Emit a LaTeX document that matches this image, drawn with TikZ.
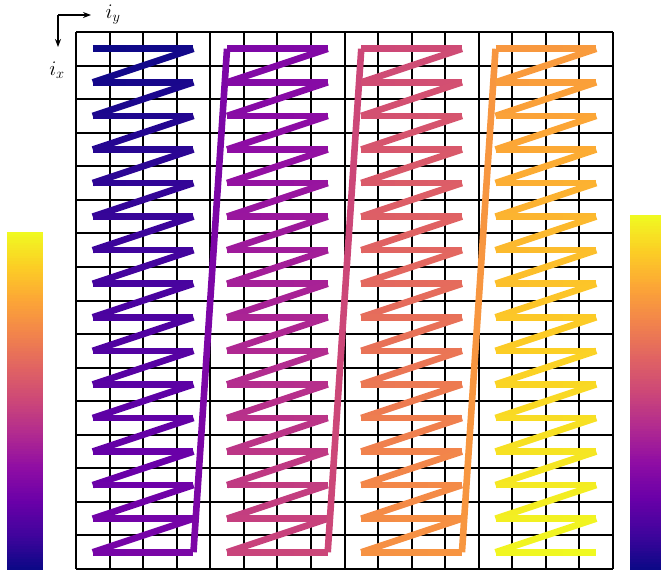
\documentclass[tikz,border=0pt]{standalone}
\usetikzlibrary{arrows.meta}
\definecolor{p0}{HTML}{0D0887}
\definecolor{p1}{HTML}{41049D}
\definecolor{p2}{HTML}{6A00A8}
\definecolor{p3}{HTML}{8F0DA4}
\definecolor{p4}{HTML}{B12A90}
\definecolor{p5}{HTML}{CC4778}
\definecolor{p6}{HTML}{E16462}
\definecolor{p7}{HTML}{F2844B}
\definecolor{p8}{HTML}{FCA636}
\definecolor{p9}{HTML}{FCCE25}
\definecolor{p10}{HTML}{F0F921}
\newcommand\setplasma[1]{%
  \pgfmathsetmacro\pT{10*(#1)}%
  \pgfmathtruncatemacro\pI{min(floor(\pT),9)}%
  \pgfmathtruncatemacro\pJ{\pI+1}%
  \pgfmathsetmacro\pF{100*(\pT-\pI)}%
  \colorlet{pc}{p\pJ!\pF!p\pI}%
}
\begin{document}
\begin{tikzpicture}[x=1pt,y=-1pt,
  seg/.style={line width=6.6pt, line cap=butt},
  gridline/.style={line width=2pt, black},
  axisarrow/.style={-{Stealth[length=8pt,width=6pt]}, line width=1.4pt},
  axislabel/.style={font=\fontsize{22}{26}\selectfont, inner sep=0pt}]
\useasboundingbox (0,0) rectangle (661,573);
\def\cw{33.5625}
\def\hl{2.640625}
\def\hr{2.7734375}
% grid
\foreach \i in {0,...,16}{
  \pgfmathtruncatemacro\gx{round(76+\i*\cw)}
  \pgfmathtruncatemacro\gy{round(32+\i*\cw)}
  \draw[gridline] (\gx,32) -- (\gx,569);
  \draw[gridline] (76,\gy) -- (613,\gy);
}
% path
\foreach \k in {0,...,254}{
  \pgfmathtruncatemacro\qb{floor(\k/64)}
  \pgfmathtruncatemacro\qr{floor(mod(\k,64)/4)}
  \pgfmathtruncatemacro\qc{mod(\k,4)}
  \pgfmathtruncatemacro\qk{\k+1}
  \pgfmathtruncatemacro\qB{floor(\qk/64)}
  \pgfmathtruncatemacro\qR{floor(mod(\qk,64)/4)}
  \pgfmathtruncatemacro\qC{mod(\qk,4)}
  \setplasma{\k/254}
  \draw[seg, draw=pc] ({76+(4*\qb+\qc+0.5)*\cw},{32+(\qr+0.5)*\cw}) -- ({76+(4*\qB+\qC+0.5)*\cw},{32+(\qR+0.5)*\cw});
}
% colorbars
\foreach \j in {0,...,127}{
  \setplasma{\j/127}
  \fill[pc] (7,{570-(\j+1)*\hl-0.3}) rectangle (43,{570-\j*\hl});
  \fill[pc] (630,{570-(\j+1)*\hr-0.3}) rectangle (661,{570-\j*\hr});
}
% axes
\coordinate (o) at (58,15);
\coordinate (ey) at (91,15);
\coordinate (ex) at (58,47);
\draw[axisarrow] (o) -- (ey);
\draw[axisarrow] (o) -- (ex);
\node[axislabel] (ly) at (113,15) {$i_y$};
\node[axislabel] (lx) at (57,70) {$i_x$};
\end{tikzpicture}
\end{document}
